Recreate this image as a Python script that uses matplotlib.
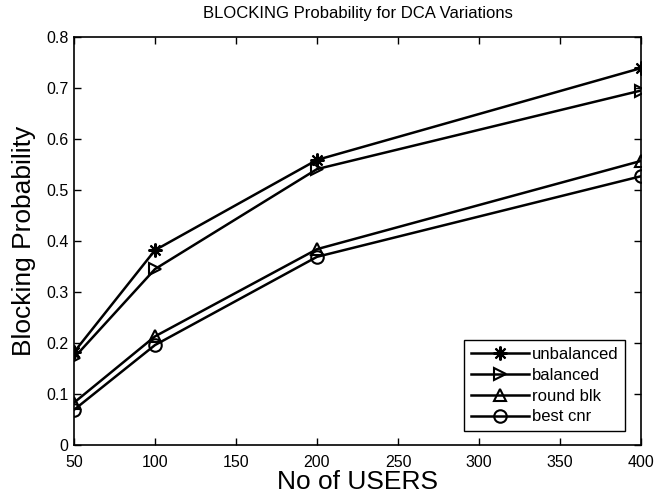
import matplotlib
matplotlib.use("Agg")
import matplotlib.pyplot as plt

plt.rcParams['font.family'] = ['Liberation Sans', 'DejaVu Sans']

users = [50, 100, 200, 400]
unbalanced = [0.182, 0.382, 0.559, 0.739]
balanced = [0.171, 0.345, 0.541, 0.695]
round_blk = [0.083, 0.213, 0.384, 0.557]
best_cnr = [0.069, 0.196, 0.369, 0.527]

labels = ['unbalanced', 'balanced', 'round blk', 'best cnr']
xticks = [50, 100, 150, 200, 250, 300, 350, 400]
yticks = [0, 0.1, 0.2, 0.3, 0.4, 0.5, 0.6, 0.7, 0.8]
yticklabels = ['0', '0.1', '0.2', '0.3', '0.4', '0.5', '0.6', '0.7', '0.8']

fig = plt.figure(figsize=(6.54, 4.99), dpi=100)
ax = fig.add_axes([74/654, 1 - 445/499, (641-74)/654, (445-37)/499])

common = dict(color='black', lw=1.8, mfc='none', mec='black', mew=1.5)
ax.plot(users, unbalanced, marker=(8, 2, 0), ms=10, label=labels[0], **common)
ax.plot(users, balanced, marker='>', ms=9, label=labels[1], **common)
ax.plot(users, round_blk, marker='^', ms=9, label=labels[2], **common)
ax.plot(users, best_cnr, marker='o', ms=9, label=labels[3], **common)

ax.set_xlim(50, 400)
ax.set_ylim(0, 0.8)
ax.set_xticks(xticks)
ax.set_yticks(yticks)
ax.set_yticklabels(yticklabels)
ax.tick_params(direction='in', top=True, right=True, labelsize=11.5, length=5, width=1)
ax.tick_params(axis='x', pad=7)
ax.tick_params(axis='y', pad=4)
for s in ax.spines.values():
    s.set_linewidth(1.2)

ax.set_title('BLOCKING Probability for DCA Variations', fontsize=12, pad=14)
ax.set_xlabel('No of USERS', fontsize=19, labelpad=0)
ax.set_ylabel('Blocking Probability', fontsize=19, labelpad=7)

leg = ax.legend(loc='lower right', bbox_to_anchor=(0.972, 0.034), borderaxespad=0,
                fontsize=12, handlelength=3.5, handletextpad=0.15, labelspacing=0.35,
                borderpad=0.4, fancybox=False, edgecolor='black', framealpha=1)
leg.get_frame().set_linewidth(1.0)

fig.savefig('out.png', dpi=100)
